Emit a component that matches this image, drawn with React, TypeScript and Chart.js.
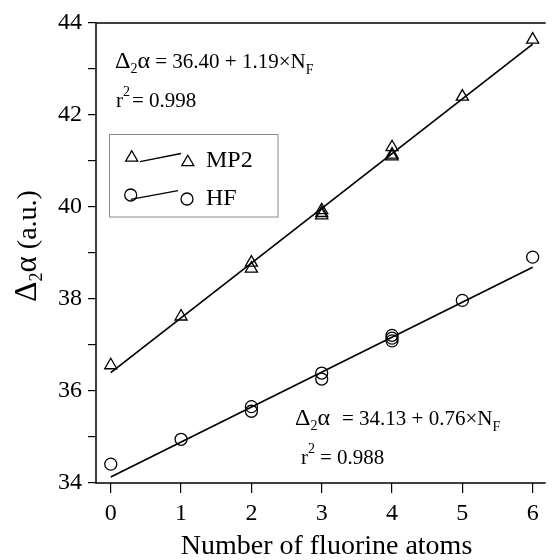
import React, { useEffect, useRef } from 'react';
import { Chart, registerables } from 'chart.js';

Chart.register(...registerables);

// ---- data ----
const mp2Counts = [0, 1, 2, 2, 3, 3, 3, 4, 4, 4, 5, 6];
const mp2Values = [36.56, 37.62, 38.79, 38.66, 39.93, 39.87, 39.82, 41.30, 41.14, 41.10, 42.40, 43.64];
const hfCounts = [0, 1, 2, 2, 3, 3, 4, 4, 4, 5, 6];
const hfValues = [34.41, 34.95, 35.66, 35.56, 36.39, 36.26, 37.21, 37.15, 37.09, 37.97, 38.91];
const fitCounts = [0, 6];
const mp2Fit = [36.40, 43.54];
const hfFit = [34.13, 38.69];
const xTickValues = [0, 1, 2, 3, 4, 5, 6];
const yTickValues = [34, 35, 36, 37, 38, 39, 40, 41, 42, 43, 44];
const yLabelledTicks = [34, 36, 38, 40, 42, 44];
const seriesNames = ['MP2', 'HF'];
const xTitle = 'Number of fluorine atoms';

const SERIF = "'Liberation Serif', 'Times New Roman', serif";

type Run = { t: string; size: number; dy?: number; x?: number };

function drawRuns(ctx: CanvasRenderingContext2D, x0: number, y0: number, runs: Run[]) {
  let x = x0;
  for (const r of runs) {
    if (r.x !== undefined) x = r.x;
    ctx.font = `${r.size}px ${SERIF}`;
    ctx.fillText(r.t, x, y0 + (r.dy || 0));
    x += ctx.measureText(r.t).width;
  }
}

function triangle(ctx: CanvasRenderingContext2D, x: number, y: number, r: number) {
  ctx.beginPath();
  ctx.moveTo(x, y - r);
  ctx.lineTo(x + r * Math.sin((2 * Math.PI) / 3), y + r / 2);
  ctx.lineTo(x - r * Math.sin((2 * Math.PI) / 3), y + r / 2);
  ctx.closePath();
  ctx.stroke();
}

function circle(ctx: CanvasRenderingContext2D, x: number, y: number, r: number) {
  ctx.beginPath();
  ctx.arc(x, y, r, 0, Math.PI * 2);
  ctx.stroke();
}

const decorPlugin = {
  id: 'decor',
  afterDraw(chart: any) {
    const ctx: CanvasRenderingContext2D = chart.ctx;
    const { left, top, right, bottom } = chart.chartArea;
    ctx.save();
    // frame (left, top, bottom)
    ctx.strokeStyle = '#000';
    ctx.lineWidth = 1.5;
    ctx.beginPath();
    ctx.moveTo(right + 2, top);
    ctx.lineTo(left, top);
    ctx.lineTo(left, bottom);
    ctx.lineTo(right + 2, bottom);
    ctx.stroke();

    ctx.fillStyle = '#000';
    ctx.textAlign = 'left';
    ctx.textBaseline = 'alphabetic';

    // equation MP2
    drawRuns(ctx, 115, 68, [
      { t: 'Δ', size: 24 },
      { t: '2', size: 14, dy: 5 },
      { t: 'α', size: 24 },
      { t: ' = 36.40 + 1.19×N', size: 21 },
      { t: 'F', size: 14, dy: 6 },
    ]);
    drawRuns(ctx, 116, 107, [
      { t: 'r', size: 21 },
      { t: '2', size: 14, dy: -11 },
      { t: '= 0.998', size: 21, x: 132 },
    ]);
    // equation HF
    drawRuns(ctx, 295, 425, [
      { t: 'Δ', size: 24 },
      { t: '2', size: 14, dy: 5 },
      { t: 'α', size: 24 },
      { t: '= 34.13 + 0.76×N', size: 21, x: 342 },
      { t: 'F', size: 14, dy: 6 },
    ]);
    drawRuns(ctx, 301, 464, [
      { t: 'r', size: 21 },
      { t: '2', size: 14, dy: -11 },
      { t: '= 0.988', size: 21, x: 320 },
    ]);

    // legend
    ctx.strokeStyle = '#8a8a8a';
    ctx.lineWidth = 1;
    ctx.strokeRect(109.5, 134.5, 168.5, 82.5);
    ctx.strokeStyle = '#000';
    ctx.lineWidth = 1.3;
    triangle(ctx, 131.7, 157.7, 7);
    triangle(ctx, 187.8, 162.2, 7);
    ctx.beginPath();
    ctx.moveTo(140, 161.7);
    ctx.lineTo(181, 153.5);
    ctx.stroke();
    circle(ctx, 130.7, 195, 6);
    circle(ctx, 187, 199, 6);
    ctx.beginPath();
    ctx.moveTo(130.7, 199.3);
    ctx.lineTo(178, 190.7);
    ctx.stroke();
    ctx.font = `24px ${SERIF}`;
    ctx.fillText(seriesNames[0], 206, 167);
    ctx.fillText(seriesNames[1], 206, 205);

    // x title
    ctx.textAlign = 'center';
    ctx.font = `28px ${SERIF}`;
    ctx.fillText(xTitle, 326.5, 554);

    // y title (rotated)
    ctx.textAlign = 'left';
    ctx.translate(36, 302);
    ctx.rotate(-Math.PI / 2);
    drawRuns(ctx, 0, 0, [
      { t: 'Δ', size: 32 },
      { t: '2', size: 18, dy: 6 },
      { t: 'α', size: 31 },
      { t: ' (a.u.)', size: 28 },
    ]);
    ctx.restore();
  },
};

export default function App() {
  const ref = useRef<HTMLCanvasElement | null>(null);

  useEffect(() => {
    document.body.style.margin = '0';
    const canvas = ref.current;
    if (!canvas) return;
    const pts = (xs: number[], ys: number[]) => xs.map((x, i) => ({ x, y: ys[i] }));
    const chart = new Chart(canvas, {
      type: 'scatter',
      data: {
        datasets: [
          {
            label: 'MP2 fit',
            data: pts(fitCounts, mp2Fit),
            showLine: true,
            borderColor: '#000',
            borderWidth: 1.7,
            pointRadius: 0,
            fill: false,
          },
          {
            label: 'HF fit',
            data: pts(fitCounts, hfFit),
            showLine: true,
            borderColor: '#000',
            borderWidth: 1.7,
            pointRadius: 0,
            fill: false,
          },
          {
            label: seriesNames[0],
            data: pts(mp2Counts, mp2Values),
            pointStyle: 'triangle',
            pointRadius: 7,
            borderColor: '#000',
            backgroundColor: 'rgba(0,0,0,0)',
            pointBorderWidth: 1.3,
            showLine: false,
          },
          {
            label: seriesNames[1],
            data: pts(hfCounts, hfValues),
            pointStyle: 'circle',
            pointRadius: 6,
            borderColor: '#000',
            backgroundColor: 'rgba(0,0,0,0)',
            pointBorderWidth: 1.3,
            showLine: false,
          },
        ],
      },
      options: {
        responsive: false,
        animation: false,
        devicePixelRatio: 1,
        layout: { padding: { top: 23, right: 0, bottom: 0, left: 0 } },
        plugins: { legend: { display: false }, tooltip: { enabled: false } },
        scales: {
          x: {
            type: 'linear',
            min: -0.21,
            max: 6.157,
            afterBuildTicks: (s: any) => {
              s.ticks = xTickValues.map((v) => ({ value: v }));
            },
            afterFit: (s: any) => {
              s.height = 77;
            },
            border: { display: false },
            grid: { drawOnChartArea: false, drawTicks: true, tickLength: 10, color: '#000', lineWidth: 1.2 },
            ticks: {
              autoSkip: false,
              maxRotation: 0,
              padding: 6,
              color: '#000',
              font: { family: SERIF, size: 24 },
              callback: (v: any) => String(v),
            },
          },
          y: {
            type: 'linear',
            min: 34,
            max: 44,
            afterBuildTicks: (s: any) => {
              s.ticks = yTickValues.map((v) => ({ value: v }));
            },
            afterFit: (s: any) => {
              s.width = 96;
            },
            border: { display: false },
            grid: { drawOnChartArea: false, drawTicks: true, tickLength: 8, color: '#000', lineWidth: 1.2 },
            ticks: {
              autoSkip: false,
              padding: 6,
              color: '#000',
              font: { family: SERIF, size: 24 },
              callback: (v: any) => (yLabelledTicks.includes(Number(v)) ? String(v) : ''),
            },
          },
        },
      },
      plugins: [decorPlugin],
    } as any);
    return () => chart.destroy();
  }, []);

  return <canvas ref={ref} width={552} height={560} style={{ display: 'block' }} />;
}
